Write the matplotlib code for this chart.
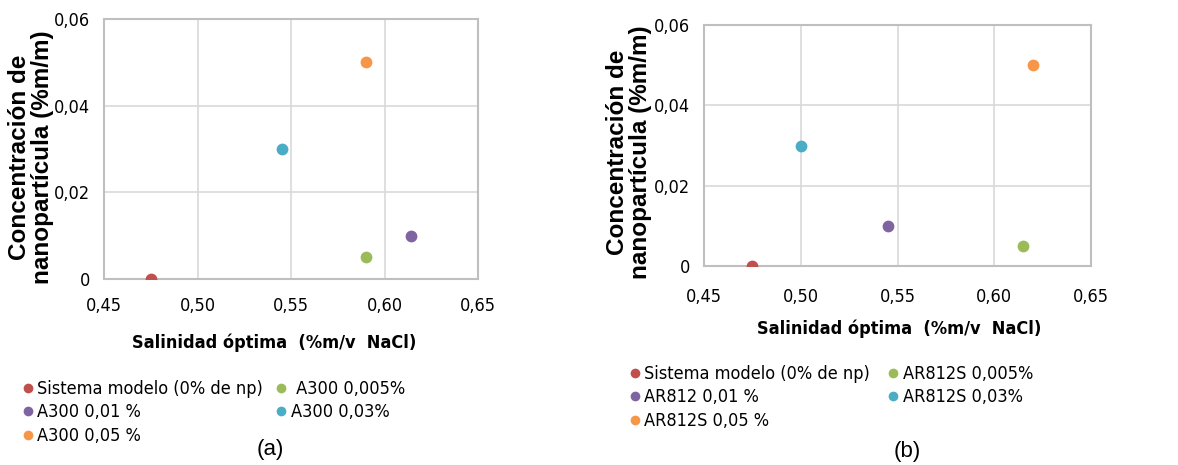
import matplotlib.pyplot as plt
from matplotlib import font_manager as fm
from matplotlib.lines import Line2D
from matplotlib.ticker import FuncFormatter

# data
colors = ['#C0504D', '#9BBB59', '#8064A2', '#4BACC6', '#F79646']

labels_a = ['Sistema modelo (0% de np)', ' A300 0,005%', 'A300 0,01 %', 'A300 0,03%', 'A300 0,05 %']
sal_a = [0.475, 0.59, 0.614, 0.545, 0.59]
conc_a = [0.0, 0.005, 0.01, 0.03, 0.05]

labels_b = ['Sistema modelo (0% de np)', 'AR812S 0,005%', 'AR812 0,01 %', 'AR812S 0,03%', 'AR812S 0,05 %']
sal_b = [0.475, 0.615, 0.545, 0.50, 0.62]
conc_b = [0.0, 0.005, 0.01, 0.03, 0.05]

x_ticks = [0.45, 0.50, 0.55, 0.60, 0.65]
y_ticks = [0, 0.02, 0.04, 0.06]

# look for a narrow font (the original uses Arial Narrow)
names = {f.name for f in fm.fontManager.ttflist}
cond_dv = any(f.name == 'DejaVu Sans' and 'condensed' in str(f.stretch) for f in fm.fontManager.ttflist)
if 'Liberation Sans Narrow' in names:
    narrow = dict(family='Liberation Sans Narrow')
    nsize = 15
elif cond_dv:
    narrow = dict(family='DejaVu Sans', stretch='condensed')
    nsize = 13
else:
    narrow = dict(family='Liberation Sans')
    nsize = 12

W, H = 1178, 465
fig = plt.figure(figsize=(W / 100, H / 100), dpi=100)


def px(l, t, r, b):
    return [l / W, 1 - b / H, (r - l) / W, (b - t) / H]


def fmt_x(v, pos):
    return f'{v:.2f}'.replace('.', ',')


def fmt_y(v, pos):
    if abs(v) < 1e-9:
        return '0'
    return f'{v:.2f}'.replace('.', ',')


def draw(box, sal, conc, labels, xpad, ylab_xy, xlab_xy, cap_xy, cap, leg_xy, colspace):
    ax = fig.add_axes(box)
    for x, y, c in zip(sal, conc, colors):
        ax.scatter(x, y, s=72, color=c, zorder=3, linewidths=0)
    ax.set_xlim(0.45, 0.65)
    ax.set_ylim(0, 0.06)
    ax.set_xticks(x_ticks)
    ax.set_yticks(y_ticks)
    ax.xaxis.set_major_formatter(FuncFormatter(fmt_x))
    ax.yaxis.set_major_formatter(FuncFormatter(fmt_y))
    ax.grid(True, color='#D9D9D9', linewidth=1.2)
    ax.set_axisbelow(True)
    for s in ax.spines.values():
        s.set_color('#BFBFBF')
        s.set_linewidth(1.5)
    ax.tick_params(length=0)
    ax.tick_params(axis='x', pad=xpad)
    ax.tick_params(axis='y', pad=10)
    for t in ax.get_xticklabels() + ax.get_yticklabels():
        t.set_fontproperties(fm.FontProperties(size=nsize, **narrow))

    fig.text(ylab_xy[0] / W, 1 - ylab_xy[1] / H, 'Concentración de\nnanopartícula (%m/m)',
             rotation=90, ha='center', va='center', fontsize=17.5, fontweight='bold',
             family='Liberation Sans', linespacing=1.0)
    fig.text(xlab_xy[0] / W, 1 - xlab_xy[1] / H, 'Salinidad óptima  (%m/v  NaCl)',
             ha='center', va='center', fontproperties=fm.FontProperties(
                 size=nsize, weight='bold', **narrow))
    fig.text(cap_xy[0] / W, 1 - cap_xy[1] / H, cap, ha='center', va='center',
             fontsize=16, family='Liberation Sans')

    handles = [Line2D([], [], marker='o', linestyle='', color=c, markersize=7,
                      markeredgewidth=0) for c in colors]
    order = [0, 2, 4, 1, 3]
    fig.legend([handles[i] for i in order], [labels[i] for i in order],
               loc='upper left', bbox_to_anchor=(leg_xy[0] / W, 1 - leg_xy[1] / H),
               ncol=2, frameon=False, prop=fm.FontProperties(size=nsize, **narrow),
               handlelength=0.5, handletextpad=0.3, labelspacing=0.3,
               columnspacing=colspace, borderaxespad=0, borderpad=0)


draw(px(104, 19, 478, 279), sal_a, conc_a, labels_a, 13,
     (31, 157), (274, 343), (270, 449), '(a)', (23, 380), 0.72)
draw(px(704, 25, 1091, 266), sal_b, conc_b, labels_b, 16,
     (629, 152), (899, 329), (907, 451), '(b)', (630, 365), 1.0)

fig.savefig('out.png', dpi=100)
